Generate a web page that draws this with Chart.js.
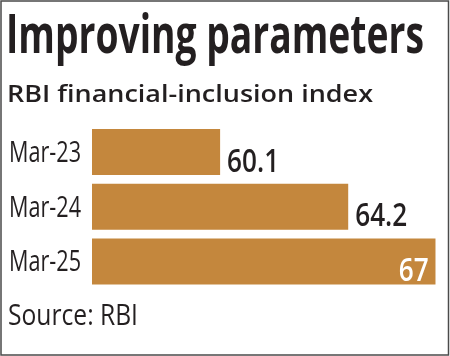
<!DOCTYPE html>
<html>
<head>
<meta charset="utf-8">
<script src="https://cdn.jsdelivr.net/npm/chart.js@4/dist/chart.umd.min.js"></script>
<style>
  html, body { margin: 0; padding: 0; background: #ffffff; }
  #wrap { position: relative; width: 450px; height: 356px; }
  canvas { display: block; }
</style>
</head>
<body>
<div id="wrap"><canvas id="c" width="450" height="356"></canvas></div>
<script>
// ---- data ----
const titleText = 'Improving parameters';
const subtitleText = 'RBI financial-inclusion index';
const sourceText = 'Source: RBI';
const categories = ['Mar-23', 'Mar-24', 'Mar-25'];
const values = [60.1, 64.2, 67];
const valueLabels = ['60.1', '64.2', '67'];
const axisMin = 56;
const axisMax = 67;

// ---- style ----
const FAMILY = '"Open Sans", "Liberation Sans", sans-serif';
const INK = '#231f20';
const BAR = '#c4873d';
const TICK_SIZE = 29;
const TICK_PAD = 11;
const TICK_WIDTH_TARGET = 72;   // visual width of "Mar-23"
const VALUE_FONT = '600 32px ' + FAMILY;
const VALUE_WIDTH_TARGET = 52;  // visual width of "64.2"

function measure(ctx, text, font) {
  ctx.save(); ctx.font = font;
  const w = ctx.measureText(text).width;
  ctx.restore();
  return w;
}

function drawFit(ctx, text, x, y, font, color, scale, align) {
  ctx.save();
  ctx.font = font;
  ctx.fillStyle = color;
  ctx.textBaseline = 'alphabetic';
  ctx.textAlign = 'left';
  const w = ctx.measureText(text).width;
  ctx.translate(x, y);
  ctx.scale(scale, 1);
  if (align === 'right') ctx.fillText(text, -w, 0); else ctx.fillText(text, 0, 0);
  ctx.restore();
}

const decor = {
  id: 'decor',
  beforeDraw(chart) {
    const ctx = chart.ctx;
    ctx.save();
    ctx.fillStyle = '#ffffff';
    ctx.fillRect(0, 0, chart.width, chart.height);
    ctx.restore();
  },
  afterLayout(chart) {
    // condense the category tick labels horizontally (narrow newspaper face)
    const s = chart.scales.y;
    if (s && !s.__condensed && typeof s.drawLabels === 'function') {
      const orig = s.drawLabels;
      s.drawLabels = function (area) {
        const ctx = this.ctx;
        const k = TICK_WIDTH_TARGET / measure(ctx, categories[0], TICK_SIZE + 'px ' + FAMILY);
        const ax = this.right - TICK_PAD;
        const L = this.left;
        ctx.save();
        ctx.translate(ax, 1.5);
        ctx.scale(k, 1);
        ctx.translate(-ax, 0);
        this.left = ax - (ax - L) / k;
        try { orig.call(this, area); } finally { this.left = L; }
        ctx.restore();
      };
      s.__condensed = true;
    }
  },
  afterDatasetsDraw(chart) {
    const ctx = chart.ctx;
    const meta = chart.getDatasetMeta(0);
    const k = VALUE_WIDTH_TARGET / measure(ctx, '64.2', VALUE_FONT);
    meta.data.forEach((bar, i) => {
      const p = bar.getProps(['x', 'y', 'height', 'base'], true);
      const label = valueLabels[i];
      const w = measure(ctx, label, VALUE_FONT) * k;
      const baseline = p.y + p.height / 2 - 3.5;
      if (p.x + 8 + w > chart.width - 8) {
        drawFit(ctx, label, p.x - 7, baseline, VALUE_FONT, '#ffffff', k, 'right');
      } else {
        drawFit(ctx, label, p.x + 7, baseline, VALUE_FONT, INK, k, 'left');
      }
    });
  },
  afterDraw(chart) {
    const ctx = chart.ctx;
    const tf = 'bold 53px ' + FAMILY;
    drawFit(ctx, titleText, 6, 53, tf, INK, 418 / measure(ctx, titleText, tf));
    const sf = '600 24px ' + FAMILY;
    drawFit(ctx, subtitleText, 7, 102, sf, INK, 366 / measure(ctx, subtitleText, sf));
    const rf = '29px ' + FAMILY;
    drawFit(ctx, sourceText, 8, 325, rf, INK, 130 / measure(ctx, sourceText, rf));
    ctx.save();
    ctx.strokeStyle = '#4a4a4a';
    ctx.lineWidth = 1.5;
    ctx.strokeRect(1, 1, 447.5, 354);
    ctx.restore();
  }
};

new Chart(document.getElementById('c'), {
  type: 'bar',
  data: {
    labels: categories,
    datasets: [{
      data: values,
      backgroundColor: BAR,
      borderWidth: 0,
      categoryPercentage: 1.0,
      barPercentage: 0.84
    }]
  },
  options: {
    indexAxis: 'y',
    responsive: false,
    animation: false,
    devicePixelRatio: 1,
    layout: { padding: { top: 124.6, bottom: 67, left: 0, right: 14.3 } },
    plugins: { legend: { display: false }, tooltip: { enabled: false }, title: { display: false } },
    scales: {
      x: {
        min: axisMin,
        max: axisMax,
        display: false
      },
      y: {
        afterFit(s) { s.width = 92; },
        grid: { display: false, drawTicks: false },
        border: { display: false },
        ticks: {
          padding: TICK_PAD,
          color: INK,
          font: { family: FAMILY, size: TICK_SIZE, weight: 'normal' }
        }
      }
    }
  },
  plugins: [decor]
});
</script>
</body>
</html>
